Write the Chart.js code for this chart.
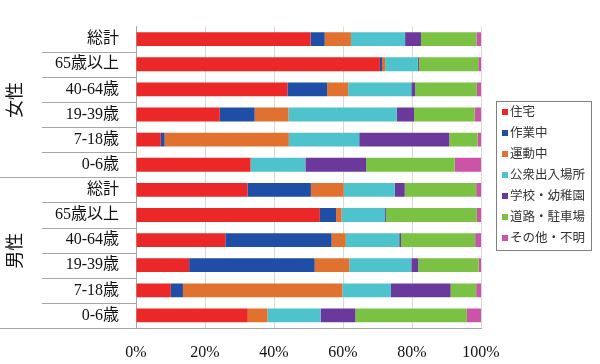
<!DOCTYPE html>
<html>
<head>
<meta charset="utf-8">
<script src="https://cdn.jsdelivr.net/npm/chart.js@4"></script>
<style>
  body { margin: 0; background: #fff; }
  #wrap { width: 600px; height: 364px; }
</style>
</head>
<body>
<div id="wrap"><canvas id="chart" width="600" height="364"></canvas></div>
<script>
// rows top to bottom, 6 per group
const groups = ['女性', '男性'];
const ages = ['総計', '65歳以上', '40-64歳', '19-39歳', '7-18歳', '0-6歳'];
const labels = ages.concat(ages);

const seriesNames = ['住宅', '作業中', '運動中', '公衆出入場所', '学校・幼稚園', '道路・駐車場', 'その他・不明'];
const seriesColors = ['#ec2727', '#1f4ea6', '#e0712f', '#4ec3cb', '#6b399c', '#7bc143', '#cb53a8'];

// percent values, one per row
const jutaku   = [50.6, 70.7, 43.9, 24.3,  7.2, 33.2, 32.3, 53.3, 25.9, 15.4, 10.1, 32.4];
const sagyo    = [ 4.1,  0.6, 11.5, 10.1,  1.1,  0.0, 18.4,  4.7, 30.8, 36.4,  3.5,  0.0];
const undo     = [ 7.6,  0.9,  6.1,  9.8, 36.0,  0.0,  9.5,  1.6,  4.1, 10.0, 46.2,  5.7];
const koshu    = [15.7,  9.5, 18.3, 31.4, 20.4, 15.9, 14.8, 12.6, 15.5, 18.0, 14.1, 15.4];
const gakko    = [ 4.6,  0.3,  1.1,  5.0, 26.1, 17.6,  2.9,  0.3,  0.5,  2.0, 17.3, 10.1];
const doro     = [16.1, 17.2, 17.9, 17.6,  8.2, 25.7, 20.7, 26.3, 21.5, 17.5,  7.4, 32.3];
const sonota   = [ 1.3,  0.8,  1.2,  1.8,  1.0,  7.6,  1.4,  1.2,  1.7,  0.7,  1.4,  4.1];
const seriesData = [jutaku, sagyo, undo, koshu, gakko, doro, sonota];

const xTicks = [0, 20, 40, 60, 80, 100];

const FONT = "'Liberation Serif', 'Noto Sans CJK JP', serif";

// separators, group labels and boxed legend
const decorations = {
    id: 'decorations',
    afterDraw(chart) {
        const ctx = chart.ctx;
        const area = chart.chartArea;
        const rowH = (area.bottom - area.top) / labels.length;
        ctx.save();
        ctx.strokeStyle = '#a6a6a6';
        ctx.lineWidth = 1;
        for (let i = 1; i <= labels.length; i++) {
            const y = Math.round(area.top + i * rowH) + 0.5;
            const x0 = (i % ages.length === 0) ? 0 : 42;
            ctx.beginPath();
            ctx.moveTo(x0, y);
            ctx.lineTo(area.left, y);
            ctx.stroke();
        }

        ctx.fillStyle = '#111';
        ctx.font = '18px ' + FONT;
        ctx.textAlign = 'center';
        ctx.textBaseline = 'middle';
        groups.forEach(function(g, gi) {
            const cy = area.top + (gi * ages.length + ages.length / 2) * rowH - 2;
            ctx.save();
            ctx.translate(16, cy);
            ctx.rotate(-Math.PI / 2);
            ctx.fillText(g, 0, 0);
            ctx.restore();
        });

        // legend
        ctx.strokeStyle = '#7f7f7f';
        ctx.strokeRect(496.5, 101.5, 95, 149);
        ctx.font = '12.5px ' + FONT;
        ctx.textAlign = 'left';
        chart.data.datasets.forEach(function(ds, i) {
            const y = 112 + i * 21;
            ctx.fillStyle = ds.backgroundColor;
            ctx.fillRect(502, y - 3, 6, 6);
            ctx.fillStyle = '#333';
            ctx.fillText(ds.label, 510, y + 1);
        });
        ctx.restore();
    }
};

new Chart(document.getElementById('chart'), {
    type: 'bar',
    data: {
        labels: labels,
        datasets: seriesNames.map(function(name, i) {
            return {
                label: name,
                data: seriesData[i],
                backgroundColor: seriesColors[i],
                borderWidth: 0,
                barPercentage: 0.55,
                categoryPercentage: 1
            };
        })
    },
    options: {
        indexAxis: 'y',
        responsive: false,
        animation: false,
        layout: { padding: { left: 0, right: 119, top: 5, bottom: 0 } },
        plugins: {
            legend: { display: false },
            tooltip: { enabled: false }
        },
        scales: {
            x: {
                stacked: true,
                min: 0,
                max: 100,
                afterBuildTicks: function(scale) {
                    scale.ticks = xTicks.map(function(v) { return { value: v }; });
                },
                afterFit: function(scale) { scale.height = 36; },
                grid: { color: '#d9d9d9', drawTicks: false },
                border: { color: '#a6a6a6' },
                ticks: {
                    padding: 15,
                    color: '#111',
                    font: { family: FONT, size: 16 },
                    callback: function(v) { return v + '%'; }
                }
            },
            y: {
                stacked: true,
                afterFit: function(scale) { scale.width = 136; },
                grid: { display: false, drawTicks: false },
                border: { color: '#a6a6a6' },
                ticks: {
                    padding: 17,
                    color: '#111',
                    font: { family: FONT, size: 16 }
                }
            }
        }
    },
    plugins: [decorations]
});
</script>
</body>
</html>
